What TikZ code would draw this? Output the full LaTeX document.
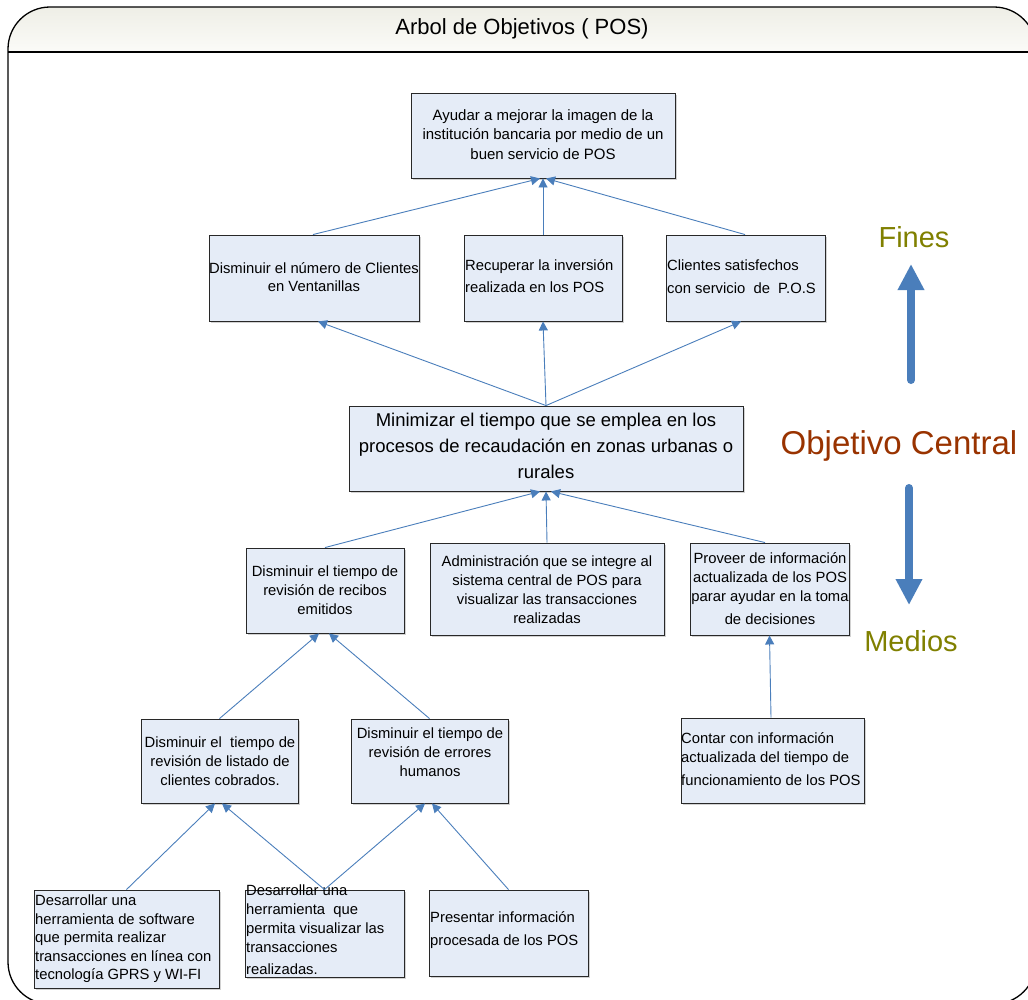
\documentclass[tikz,border=0pt]{standalone}
\usepackage{fontspec}
\setmainfont{Liberation Sans}
\usetikzlibrary{arrows.meta,shadows}

\definecolor{boxfill}{RGB}{229,236,247}
\definecolor{boxline}{RGB}{40,40,40}
\definecolor{linkblue}{RGB}{74,126,187}
\definecolor{finesolive}{RGB}{128,128,0}
\definecolor{centralred}{RGB}{153,51,0}
\definecolor{hdrtop}{RGB}{238,238,230}
\definecolor{hdrbot}{RGB}{251,251,248}

\tikzset{
  box/.style={draw=boxline, line width=0.9pt, fill=boxfill, inner sep=0pt,
    drop shadow={shadow xshift=1.6pt, shadow yshift=-1.6pt, fill=black!35}},
  txt/.style={inner sep=0pt, font=\fontsize{14.8}{19}\selectfont},
  ctxt/.style={txt, align=center},
  ltxt/.style={txt, align=left, anchor=west},
  conn/.style={draw=linkblue, line width=0.9pt, -{Triangle[length=9pt,width=9pt]}},
  bigarrow/.style={draw=linkblue, line width=8pt, line cap=round,
    -{Triangle[length=26pt,width=25pt]}},
  frame/.style={draw=black, line width=1.3pt},
}

\begin{document}
\begin{tikzpicture}[x=1pt,y=-1pt]
\useasboundingbox (0,0) rectangle (1028,999);

\begin{scope}
  \clip (0,0) rectangle (1028,999);
  % title band of the frame
  \begin{scope}
    \clip[rounded corners=42pt] (8,7) rectangle (1036,1004);
    \shade[top color=hdrtop, bottom color=hdrbot] (8,7) rectangle (1036,52);
  \end{scope}
  \draw[frame, rounded corners=42pt] (8,7) rectangle (1036,1004);
  \draw[frame] (8,52) -- (1036,52);
\end{scope}

\node[font=\fontsize{22}{26}\selectfont, inner sep=0pt] (title) at (522,29) {Arbol de Objetivos ( POS)};

% ---- Fines ----
\node[box, minimum width=264pt, minimum height=85pt] (a) at (543,135.5) {};
\node[ctxt, font=\fontsize{15}{19.5}\selectfont] (at) at (543,134.5)
  {Ayudar a mejorar la imagen de la\\institución bancaria por medio de un\\buen servicio de POS};

\node[box, minimum width=210pt, minimum height=86pt] (b1) at (314,278) {};
\node[ctxt, font=\fontsize{14.8}{18}\selectfont] (b1t) at (314,277)
  {Disminuir el número de Clientes\\en Ventanillas};

\node[box, minimum width=158pt, minimum height=86pt] (b2) at (543,278) {};
\node[ltxt, font=\fontsize{14.8}{22}\selectfont] (b2t) at (465,276)
  {Recuperar la inversión\\realizada en los POS};

\node[box, minimum width=159pt, minimum height=86pt] (b3) at (745.5,278) {};
\node[ltxt, font=\fontsize{14.8}{23}\selectfont] (b3t) at (667,276.5)
  {Clientes satisfechos\\con servicio~ de~ P.O.S};

% ---- Objetivo central ----
\node[box, minimum width=394pt, minimum height=85pt] (c) at (546,448.5) {};
\node[ctxt, font=\fontsize{18.5}{26}\selectfont] (ct) at (546,446)
  {Minimizar el tiempo que se emplea en los\\procesos de recaudación en zonas urbanas o\\rurales};

% ---- Medios ----
\node[box, minimum width=158pt, minimum height=85pt] (d1) at (325,590.5) {};
\node[ctxt] (d1t) at (325,590)
  {Disminuir el tiempo de\\revisión de recibos\\emitidos};

\node[box, minimum width=234pt, minimum height=92pt] (d2) at (547,589) {};
\node[ctxt] (d2t) at (547,590)
  {Administración que se integre al\\sistema central de POS para\\visualizar las transacciones\\realizadas};

\node[box, minimum width=159pt, minimum height=92pt] (d3) at (769.5,589) {};
\node[ctxt] (d3t) at (770,589)
  {Proveer de información\\actualizada de los POS\\parar ayudar en la toma\\[4pt]de decisiones};

\node[box, minimum width=157pt, minimum height=84pt] (e1) at (219.5,761) {};
\node[ctxt] (e1t) at (220,761)
  {Disminuir el~ tiempo de\\revisión de listado de\\clientes cobrados.};

\node[box, minimum width=157pt, minimum height=84pt] (e2) at (429.5,761) {};
\node[ctxt] (e2t) at (430,752)
  {Disminuir el tiempo de\\revisión de errores\\humanos};

\node[box, minimum width=183pt, minimum height=85pt] (e3) at (772.5,760.5) {};
\node[ltxt] (e3t) at (681,759.5)
  {Contar con información\\actualizada del tiempo de\\[4pt]funcionamiento de los POS};

\node[box, minimum width=185pt, minimum height=98pt] (f1) at (126.5,939) {};
\node[ltxt, font=\fontsize{14.8}{18.5}\selectfont] (f1t) at (35,939)
  {Desarrollar una\\herramienta de software\\que permita realizar\\transacciones en línea con\\tecnología GPRS y WI-FI};

\node[box, minimum width=159pt, minimum height=87pt] (f2) at (324.5,933.5) {};
\node[ltxt] (f2t) at (246,929.5)
  {Desarrollar una\\herramienta~ que\\permita visualizar las\\transacciones\\[3pt]realizadas.};

\node[box, minimum width=159pt, minimum height=86pt] (f3) at (508.5,933) {};
\node[ltxt] (f3t) at (430,930.5)
  {Presentar información\\[4pt]procesada de los POS};

% ---- connectors ----
\draw[conn] ([xshift=-1pt]b1.north) -- ([xshift=-3pt]a.south);
\draw[conn] (b2.north) -- (a.south);
\draw[conn] ([xshift=-0.5pt]b3.north) -- ([xshift=3pt]a.south);

\draw[conn] (c.north) -- ([xshift=4pt]b1.south);
\draw[conn] (c.north) -- (b2.south);
\draw[conn] (c.north) -- ([xshift=-4.5pt]b3.south);

\draw[conn] (d1.north) -- ([xshift=-6pt]c.south);
\draw[conn] (d2.north) -- (c.south);
\draw[conn] ([xshift=-4.5pt]d3.north) -- ([xshift=5pt]c.south);

\draw[conn] (e1.north) -- ([xshift=-6pt]d1.south);
\draw[conn] (e2.north) -- ([xshift=4pt]d1.south);
\draw[conn] ([xshift=-1.5pt]e3.north) -- (d3.south);

\draw[conn] (f1.north) -- ([xshift=-4.5pt]e1.south);
\draw[conn] (f2.north) -- ([xshift=2.5pt]e1.south);
\draw[conn] (f2.north) -- ([xshift=-4.5pt]e2.south);
\draw[conn] (f3.north) -- ([xshift=2.5pt]e2.south);

% ---- side legend ----
\node[font=\fontsize{29}{34}\selectfont, text=finesolive, inner sep=0pt] (fines) at (914,237) {Fines};
\node[font=\fontsize{33}{38}\selectfont, text=centralred, inner sep=0pt] (central) at (899,446) {Objetivo Central};
\node[font=\fontsize{29}{34}\selectfont, text=finesolive, inner sep=0pt] (medios) at (911,641) {Medios};

\coordinate (upTail) at (911,380);
\coordinate (upTip) at (911,264);
\coordinate (downTail) at (909,488);
\coordinate (downTip) at (909,605);
\draw[bigarrow] (upTail) -- (upTip);
\draw[bigarrow] (downTail) -- (downTip);
\end{tikzpicture}
\end{document}
